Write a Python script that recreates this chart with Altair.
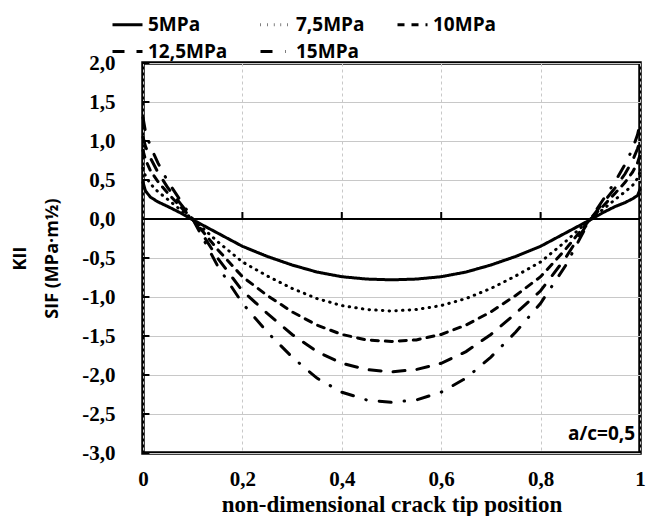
import altair as alt
import pandas as pd

# ---- data ----
x_pos = [0, 0.005, 0.015, 0.03, 0.05, 0.075, 0.1, 0.15, 0.2, 0.25, 0.3, 0.35, 0.4, 0.45, 0.5,
         0.55, 0.6, 0.65, 0.7, 0.75, 0.8, 0.85, 0.9, 0.925, 0.95, 0.97, 0.985, 0.995, 1.0]

s5 = [0.47, 0.36, 0.28, 0.22, 0.16, 0.08, -0.01, -0.18, -0.35, -0.48, -0.59, -0.68, -0.74, -0.77, -0.78,
      -0.77, -0.74, -0.68, -0.59, -0.48, -0.35, -0.18, -0.01, 0.08, 0.16, 0.21, 0.26, 0.30, 0.38]
s75 = [0.65, 0.55, 0.45, 0.35, 0.25, 0.12, 0.0, -0.29, -0.55, -0.73, -0.89, -1.02, -1.11, -1.16, -1.18,
       -1.16, -1.11, -1.02, -0.89, -0.73, -0.55, -0.29, 0.0, 0.12, 0.25, 0.35, 0.43, 0.52, 0.60]
s10 = [0.88, 0.76, 0.62, 0.48, 0.33, 0.16, 0.0, -0.39, -0.74, -0.98, -1.19, -1.36, -1.48, -1.55, -1.57,
       -1.55, -1.48, -1.36, -1.19, -0.98, -0.74, -0.39, 0.0, 0.16, 0.33, 0.47, 0.60, 0.72, 0.82]
s125 = [1.05, 0.93, 0.78, 0.60, 0.40, 0.20, 0.0, -0.50, -0.92, -1.21, -1.48, -1.70, -1.85, -1.93, -1.96,
        -1.93, -1.85, -1.70, -1.48, -1.21, -0.92, -0.50, 0.0, 0.20, 0.40, 0.58, 0.75, 0.90, 1.00]
s15 = [1.30, 1.12, 0.93, 0.72, 0.48, 0.24, 0.0, -0.60, -1.08, -1.45, -1.77, -2.04, -2.22, -2.32, -2.35,
       -2.32, -2.22, -2.04, -1.77, -1.45, -1.08, -0.60, 0.0, 0.24, 0.48, 0.70, 0.90, 1.08, 1.22]

series_names = ["5MPa", "7,5MPa", "10MPa", "12,5MPa", "15MPa"]
series_vals = [s5, s75, s10, s125, s15]
dashes = [[1, 0], [0.5, 6.2], [7, 7], [12, 12], [12, 13, 0.5, 13]]

y_ticks = [-3.0, -2.5, -2.0, -1.5, -1.0, -0.5, 0.0, 0.5, 1.0, 1.5, 2.0]
x_ticks = [0, 0.2, 0.4, 0.6, 0.8, 1.0]
x_inner_ticks = [0.2, 0.4, 0.6, 0.8]

rows = []
for name, vals in zip(series_names, series_vals):
    for xv, yv in zip(x_pos, vals):
        rows.append({"x": xv, "y": yv, "series": name})
df = pd.DataFrame(rows)

serif = "Liberation Serif"
sans = "Open Sans"
X_TITLE = "non-dimensional crack tip position"
Y_TITLE = ["KII", "SIF (MPa\u00b7m\u00bd)"]

x_scale = alt.Scale(domain=[0, 1], nice=False, zero=False)
y_scale = alt.Scale(domain=[-3, 2], nice=False, zero=False)

x_axis = alt.Axis(
    values=x_ticks,
    labelExpr="datum.value == 0 || datum.value == 1 ? format(datum.value, 'd') : replace(format(datum.value, '.1f'), '.', ',')",
    title=X_TITLE,
    grid=True, gridDash=[3, 3], gridColor="#c8c8c8", gridWidth=1,
    ticks=False, domain=False,
    labelFont=serif, labelFontWeight="bold", labelFontSize=21, labelColor="black",
    labelPadding=15, labelFlush=False, labelOverlap=False,
    titleFont=serif, titleFontWeight="bold", titleFontSize=23, titleColor="black",
    titlePadding=4,
)
y_axis = alt.Axis(
    values=y_ticks,
    labelExpr="replace(replace(format(datum.value, '.1f'), '.', ','), '\u2212', '-')",
    title=Y_TITLE,
    grid=True, gridColor="#c8c8c8", gridWidth=1.2,
    ticks=False, domain=False,
    labelFont=serif, labelFontWeight="bold", labelFontSize=21, labelColor="black",
    labelPadding=28, labelFlush=False, labelOverlap=False,
    titleFont=sans, titleFontWeight="bold", titleFontSize=18, titleColor="black",
    titleLineHeight=32, titlePadding=20,
)

X = lambda f: alt.X(f, scale=x_scale, axis=x_axis, title=X_TITLE)
Y = lambda f: alt.Y(f, scale=y_scale, axis=y_axis, title=Y_TITLE)

lines = alt.Chart(df).mark_line(strokeWidth=3, strokeCap="round", color="black").encode(
    x=X("x:Q"),
    y=Y("y:Q"),
    strokeDash=alt.StrokeDash(
        "series:N",
        scale=alt.Scale(domain=series_names, range=dashes),
        sort=series_names,
        legend=alt.Legend(
            orient="none", legendX=-32, legendY=-55, columns=3, direction="horizontal",
            title=None, symbolType="stroke", symbolSize=900, symbolStrokeWidth=3,
            symbolStrokeColor="black", labelFont=sans, labelFontWeight="bold",
            labelFontSize=19, labelColor="black", labelOffset=4,
            columnPadding=26, rowPadding=-6, labelLimit=200,
        ),
    ),
    order="x:Q",
)

zero_df = pd.DataFrame({"y": [0.0]})
zero_line = alt.Chart(zero_df).mark_rule(color="black", strokeWidth=2).encode(
    y=Y("y:Q")
)

xt_df = pd.DataFrame({"x": x_inner_ticks, "y": [0.0] * 4, "y2": [0.09] * 4})
x_marks = alt.Chart(xt_df).mark_rule(color="black", strokeWidth=2).encode(
    x=X("x:Q"),
    y=Y("y:Q"),
    y2="y2:Q",
)

yt_df = pd.DataFrame({"y": y_ticks, "x": [0.0] * len(y_ticks), "x2": [0.013] * len(y_ticks)})
y_marks = alt.Chart(yt_df).mark_rule(color="black", strokeWidth=2).encode(
    y=Y("y:Q"),
    x=X("x:Q"),
    x2="x2:Q",
)

note_df = pd.DataFrame({"x": [0.99], "y": [-2.75], "t": ["a/c=0,5"]})
note = alt.Chart(note_df).mark_text(
    align="right", baseline="middle", font=sans, fontWeight="bold", fontSize=19, color="black"
).encode(
    x=X("x:Q"),
    y=Y("y:Q"),
    text="t:N",
)

chart = alt.layer(lines, zero_line, x_marks, y_marks, note).properties(
    width=497, height=390,
    padding={"left": 3, "top": 0, "right": 0, "bottom": 0},
    background="white",
).configure_view(
    stroke="black", strokeWidth=3.5
)

chart.save("out.html", embed_options={"renderer": "svg", "actions": False})
